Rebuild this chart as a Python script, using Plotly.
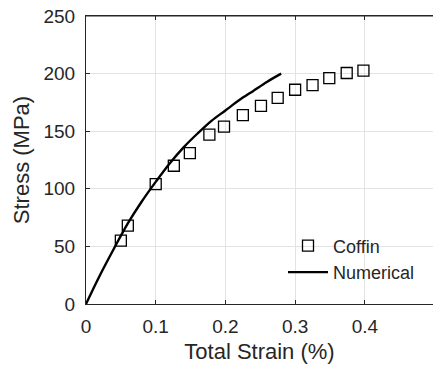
import plotly.graph_objects as go

# Experimental (Coffin) data
coffin_strain = [0.050, 0.060, 0.100, 0.126, 0.149, 0.177, 0.198, 0.225, 0.251, 0.275, 0.300, 0.325, 0.349, 0.374, 0.398]
coffin_stress = [55, 68, 104, 120, 131, 147, 154, 164, 172, 179, 186, 190, 196, 200.5, 202.5]

# Numerical curve
num_strain = [0, 0.02, 0.04, 0.06, 0.08, 0.10, 0.12, 0.14, 0.16, 0.18, 0.20, 0.22, 0.24, 0.26, 0.28]
num_stress = [0, 25, 48, 70, 89, 106, 122, 136, 148, 159, 168, 177, 185, 193, 200]

x_ticks = [0, 0.1, 0.2, 0.3, 0.4]
x_ticklabels = ["0", "0.1", "0.2", "0.3", "0.4"]
y_ticks = [0, 50, 100, 150, 200, 250]

FONT = "Liberation Sans, Arial, Helvetica, sans-serif"
TXT = "#262626"

fig = go.Figure()
fig.add_trace(go.Scatter(
    x=coffin_strain, y=coffin_stress, mode="markers", name="Coffin",
    marker=dict(symbol="square-open", size=11, color="black", line=dict(width=1.3, color="black")),
))
fig.add_trace(go.Scatter(
    x=num_strain, y=num_stress, mode="lines", name="Numerical",
    line=dict(color="black", width=2.4, shape="spline"),
))

fig.update_layout(
    width=433, height=372,
    margin=dict(l=86, r=0, t=16, b=68),
    paper_bgcolor="white", plot_bgcolor="white",
    font=dict(family=FONT, color=TXT, size=18),
    showlegend=True,
    legend=dict(
        x=(283 - 86) / 347, y=(304 - 259) / 288, xanchor="left", yanchor="middle",
        bgcolor="rgba(0,0,0,0)", borderwidth=0,
        font=dict(family=FONT, size=18, color=TXT),
        itemwidth=40,
    ),
    xaxis=dict(
        range=[0, 0.4978], tickvals=x_ticks, ticktext=x_ticklabels,
        showgrid=True, gridcolor="#e3e3e3", gridwidth=1,
        showline=True, linecolor=TXT, linewidth=1, mirror="ticks",
        ticks="inside", ticklen=4, tickcolor=TXT,
        tickfont=dict(size=19, color=TXT), ticklabelstandoff=5,
        zeroline=False,
        title=dict(text="Total Strain (%)", font=dict(size=22, color=TXT), standoff=7),
    ),
    yaxis=dict(
        range=[0, 250], tickvals=y_ticks,
        showgrid=True, gridcolor="#e3e3e3", gridwidth=1,
        showline=True, linecolor=TXT, linewidth=1,
        ticks="inside", ticklen=4, tickcolor=TXT,
        tickfont=dict(size=19, color=TXT), ticklabelstandoff=6,
        zeroline=False,
        title=dict(text="Stress (MPa)", font=dict(size=22, color=TXT), standoff=7),
    ),
    shapes=[dict(type="line", xref="paper", yref="paper", x0=0, x1=1, y0=1, y1=1,
                 line=dict(color=TXT, width=1))],
)

fig.write_html("out.html")
